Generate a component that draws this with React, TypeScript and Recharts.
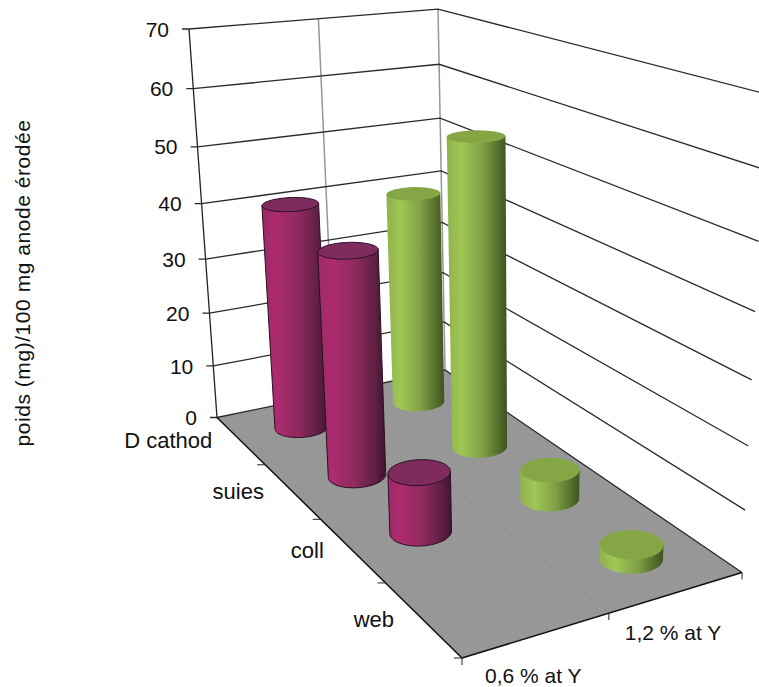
import React from "react";
import { ScatterChart, Scatter, XAxis, YAxis } from "recharts";

const categories = ["D cathod", "suies", "coll", "web"];
const seriesNames = ["0,6 % at Y", "1,2 % at Y"];
const valueTicks = [0, 10, 20, 30, 40, 50, 60, 70];
const maroonValues = [41, 38.9, 10, 0];
const greenValues = [39.8, 54.6, 5, 2.3];
const yTitle = "poids (mg)/100 mg  anode érodée";

const WIDTH = 759;
const HEIGHT = 687;
const MAX_VALUE = 70;
const FONT = "'Liberation Sans', Arial, sans-serif";

// projective matrix of the 3D box: s along categories, t along series, v = value / max
// (the s*v and t*v terms are a small fit for the top of the walls)
function project(s: number, t: number, v: number) {
  const w = -0.26575 * s + 0.07545 * t - 0.0822 * v + 1;
  return {
    x: (122.22 * s + 261.58 * t - 43.54 * v + 217) / w,
    y: (65.64 * s - 19.58 * t - 390.88 * v + 2 * t * v - 6.4 * s * v + 417.5) / w,
  };
}

const catCenter = (i: number) => (i + 0.5) / categories.length;
const serCenter = (j: number) => (j + 0.5) / seriesNames.length;
const RS = 0.049;
const RT = 0.103;

function ring(s: number, t: number, v: number) {
  const pts = [];
  for (let i = 0; i < 64; i++) {
    const a = (i / 64) * Math.PI * 2;
    pts.push(project(s + RS * Math.cos(a), t + RT * Math.sin(a), v));
  }
  return pts;
}

const toPath = (pts: { x: number; y: number }[]) =>
  pts.map((p, i) => `${i ? "L" : "M"}${p.x.toFixed(1)} ${p.y.toFixed(1)}`).join(" ");

function Cylinder(props: any) {
  const { payload, cx, cy } = props;
  const { s, t, v, grad, top, outline } = payload;
  const base = project(s, t, 0);
  const dx = cx - base.x;
  const dy = cy - base.y;
  const lower = ring(s, t, 0);
  const upper = ring(s, t, v);
  const iL = lower.reduce((b, p, i) => (p.x < lower[b].x ? i : b), 0);
  const iR = lower.reduce((b, p, i) => (p.x > lower[b].x ? i : b), 0);
  const jL = upper.reduce((b, p, i) => (p.x < upper[b].x ? i : b), 0);
  const jR = upper.reduce((b, p, i) => (p.x > upper[b].x ? i : b), 0);
  // front arc of the base, right extreme to left extreme
  const arc = [];
  for (let i = iR; ; i = (i + 1) % 64) {
    arc.push(lower[i]);
    if (i === iL) break;
  }
  const midA = arc[Math.floor(arc.length / 2)];
  const front = midA.y > base.y ? arc : [];
  if (!front.length) {
    for (let i = iR; ; i = (i + 63) % 64) {
      front.push(lower[i]);
      if (i === iL) break;
    }
  }
  const side = [upper[jR], ...front, upper[jL]];
  return (
    <g transform={`translate(${dx} ${dy})`}>
      <path d={toPath(side) + " Z"} fill={`url(#${grad})`} stroke={outline} strokeWidth={outline === "none" ? 0 : 1} />
      <path d={toPath(upper) + " Z"} fill={top} stroke={outline} strokeWidth={outline === "none" ? 0 : 1} />
    </g>
  );
}

const NoMark = () => <g />;

function FloorShape(props: any) {
  const corners = [project(0, 0, 0), project(1, 0, 0), project(1, 1, 0), project(0, 1, 0)];
  return <path d={toPath(corners) + " Z"} fill="#979797" />;
}

function ValueLabel(props: any) {
  return (
    <text x={props.cx - 20} y={props.cy} dy="0.36em" textAnchor="end" fontSize={21} fontFamily={FONT} fill="#111">
      {props.payload.label}
    </text>
  );
}

function CategoryLabel(props: any) {
  return (
    <text x={props.cx - 28} y={props.cy} dy="0.36em" textAnchor="end" fontSize={22} fontFamily={FONT} fill="#111">
      {props.payload.label}
    </text>
  );
}

function SeriesLabel(props: any) {
  return (
    <text x={props.cx - 4} y={props.cy + 40} dy="0.36em" textAnchor="middle" fontSize={21} fontFamily={FONT} fill="#111">
      {props.payload.label}
    </text>
  );
}

function TitleLabel(props: any) {
  return (
    <text
      transform={`translate(${props.cx} ${props.cy}) rotate(-90)`}
      textAnchor="middle"
      fontSize={21}
      letterSpacing={0.55}
      fontFamily={FONT}
      fill="#111"
    >
      {yTitle}
    </text>
  );
}

const line = (pts: { x: number; y: number }[], stroke: string, width = 1) => (
  <Scatter
    data={pts}
    line={{ stroke, strokeWidth: width }}
    shape={NoMark}
    isAnimationActive={false}
  />
);

const cylinderData = (values: number[], j: number, grad: string, top: string, outline: string) =>
  values
    .map((value, i) => {
      const s = catCenter(i);
      const t = serCenter(j);
      return { ...project(s, t, 0), s, t, v: value / MAX_VALUE, value, grad, top, outline };
    })
    .filter((d) => d.value > 0);

const maroonData = cylinderData(maroonValues, 0, "maroonSide", "#7e2b5e", "#2b0f24");
const greenData = cylinderData(greenValues, 1, "greenSide", "#85a644", "none");

export default function App() {
  const axisPoint = (t: number, v: number) => project(0, t, v / MAX_VALUE);
  return (
    <div style={{ position: "fixed", left: 0, top: 0, width: WIDTH, height: HEIGHT, background: "#fff" }}>
      <ScatterChart width={WIDTH} height={HEIGHT} margin={{ top: 0, right: 0, bottom: 0, left: 0 }}>
        <defs>
          <linearGradient id="maroonSide" x1="0" y1="0" x2="1" y2="0">
            <stop offset="0" stopColor="#9c2a66" />
            <stop offset="0.22" stopColor="#ad2c6f" />
            <stop offset="0.55" stopColor="#8e2a5e" />
            <stop offset="0.85" stopColor="#5d1f41" />
            <stop offset="1" stopColor="#3f1530" />
          </linearGradient>
          <linearGradient id="greenSide" x1="0" y1="0" x2="1" y2="0">
            <stop offset="0" stopColor="#8fb24b" />
            <stop offset="0.25" stopColor="#a0c756" />
            <stop offset="0.6" stopColor="#7f9f45" />
            <stop offset="0.85" stopColor="#566f2c" />
            <stop offset="1" stopColor="#3f5220" />
          </linearGradient>
        </defs>
        <XAxis type="number" dataKey="x" domain={[0, WIDTH]} hide allowDataOverflow />
        <YAxis type="number" dataKey="y" domain={[0, HEIGHT]} reversed hide allowDataOverflow />

        <Scatter data={[project(0, 0, 0)]} shape={FloorShape} isAnimationActive={false} />
        {line([project(0, 0.5, 0), project(1, 0.5, 0)], "#8f8f8f")}

        {line([axisPoint(0.5, 0), axisPoint(0.5, MAX_VALUE)], "#969696", 1.5)}
        {line([axisPoint(1, 0), axisPoint(1, MAX_VALUE)], "#969696", 1.5)}

        {valueTicks.map((v) => {
          const a = axisPoint(0, v);
          const pts = [{ x: a.x - 7, y: a.y }, a, axisPoint(1, v), project(1, 1, v / MAX_VALUE)];
          return <React.Fragment key={v}>{line(pts, "#2a2a2a", 1.3)}</React.Fragment>;
        })}
        {line([axisPoint(0, 0), axisPoint(0, MAX_VALUE)], "#222", 1.3)}

        {line([project(0, 0, 0), project(1, 0, 0)], "#111", 1.5)}
        {line([project(1, 0, 0), project(1, 1, 0)], "#111", 1.5)}
        {categories.map((_, i) => {
          const p = project((i + 1) / categories.length, 0, 0);
          return <React.Fragment key={i}>{line([{ x: p.x - 8, y: p.y }, p], "#222")}</React.Fragment>;
        })}
        {[0, 0.5, 1].map((t) => {
          const p = project(1, t, 0);
          return <React.Fragment key={t}>{line([p, { x: p.x, y: p.y + 7 }], "#222")}</React.Fragment>;
        })}

        <Scatter data={maroonData} shape={Cylinder} isAnimationActive={false} />
        <Scatter data={greenData} shape={Cylinder} isAnimationActive={false} />

        <Scatter
          data={valueTicks.map((v) => ({ ...axisPoint(0, v), label: v }))}
          shape={ValueLabel}
          isAnimationActive={false}
        />
        <Scatter
          data={categories.map((label, i) => ({ ...project(catCenter(i), 0, 0), label }))}
          shape={CategoryLabel}
          isAnimationActive={false}
        />
        <Scatter
          data={seriesNames.map((label, j) => ({ ...project(1, serCenter(j), 0), label }))}
          shape={SeriesLabel}
          isAnimationActive={false}
        />
        <Scatter data={[{ x: 29.5, y: 283 }]} shape={TitleLabel} isAnimationActive={false} />
      </ScatterChart>
    </div>
  );
}
